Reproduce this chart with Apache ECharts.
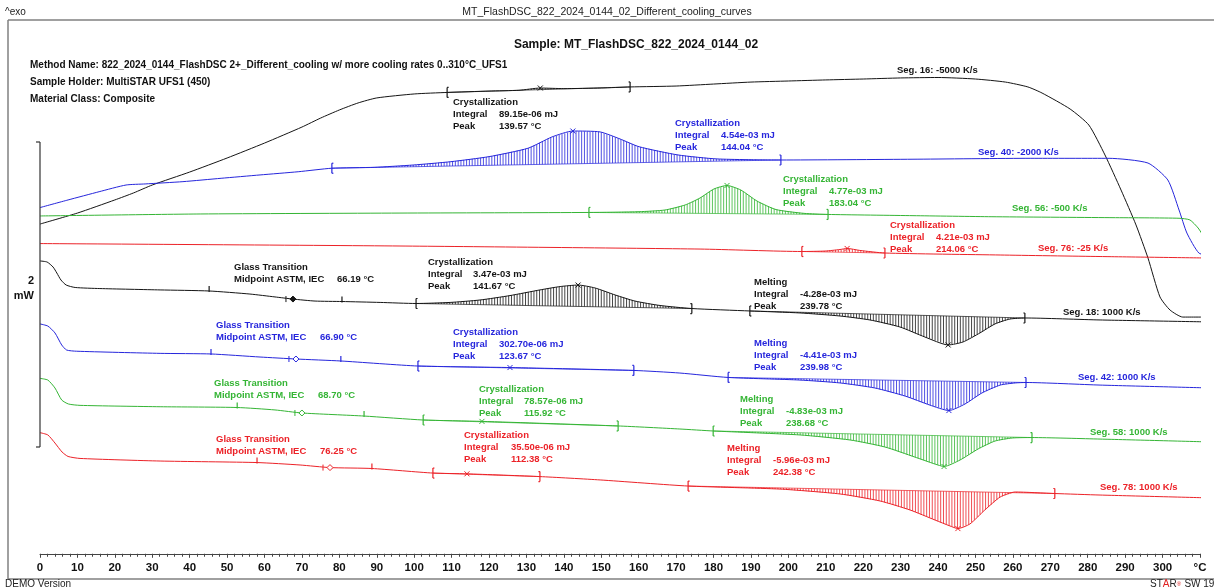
<!DOCTYPE html>
<html><head><meta charset="utf-8">
<script src="https://cdn.jsdelivr.net/npm/echarts@6/dist/echarts.min.js"></script>
<style>html,body{margin:0;padding:0;background:#fff}#c{width:1214px;height:587px}</style>
</head><body><div id="c"></div>
<script>
// ---------------- DATA: [temperature °C, heat flow mW (relative offset)] ----------------
const seg16 = [[0,1.462],[10,1.534],[20,1.620],[25,1.666],[30,1.718],[40,1.803],[50,1.895],[60,1.993],[70,2.098],[75,2.157],[80,2.210],[85,2.256],[90,2.289],[100,2.315],[108.8,2.325],[120,2.334],[128,2.339],[133.7,2.354],[140,2.350],[150,2.354],[157.7,2.361],[170,2.367],[180,2.380],[190,2.393],[200,2.400],[210,2.407],[220,2.413],[230,2.420],[240,2.423],[250,2.413],[258,2.393],[264,2.361],[267.8,2.321],[275.3,2.216],[280.3,2.111],[284.6,1.915],[288.9,1.685],[292.9,1.456],[296.1,1.239],[299.3,0.984],[302,0.898],[305.4,0.852],[312.6,0.852]];
const seg40 = [[0,1.570],[7.5,1.620],[15.8,1.674],[23,1.718],[28.1,1.725],[38.2,1.740],[48.4,1.762],[58.8,1.784],[69,1.805],[78,1.828],[89.3,1.834],[99.7,1.849],[109.8,1.871],[120,1.904],[130.4,1.959],[136.8,2.033],[142.4,2.072],[149.7,2.066],[155,2.020],[160.1,1.969],[170.5,1.915],[180.9,1.889],[198,1.882],[233.3,1.887],[264.8,1.893],[285.7,1.893],[296.1,1.862],[301.4,1.751],[304.4,1.554],[306.5,1.403],[309.7,1.272],[312.9,1.252]];
const seg56 = [[0,1.515],[42.8,1.528],[96.2,1.534],[146.7,1.538],[160.1,1.543],[167,1.554],[172.4,1.587],[176.4,1.633],[180.1,1.692],[183.6,1.715],[187.3,1.685],[191.6,1.613],[196.7,1.557],[204.2,1.532],[210.6,1.525],[233.3,1.517],[254.4,1.510],[285.7,1.504],[304.4,1.500],[307.3,1.489],[309.5,1.436],[311.3,1.370],[312.9,1.338]];
const seg76 = [[0,1.334],[96.2,1.318],[176.4,1.298],[203.6,1.282],[209.8,1.285],[213.8,1.295],[215.7,1.302],[219.1,1.289],[225.8,1.272],[256.6,1.259],[283.3,1.249],[312.9,1.239]];
const seg18 = [[0,1.220],[1.9,1.213],[3.5,1.180],[4.5,1.141],[5.6,1.095],[7,1.062],[9.4,1.046],[16,1.039],[32.1,1.030],[45.2,1.023],[56.1,1.003],[62.8,0.984],[67.6,0.970],[73.5,0.957],[80.7,0.954],[90.9,0.948],[100.5,0.941],[109.6,0.948],[117.6,0.964],[125.6,0.993],[133.6,1.030],[139,1.052],[143.8,1.062],[148.3,1.043],[153.7,0.997],[159,0.957],[165.7,0.928],[174.2,0.908],[189.7,0.892],[203.1,0.879],[213.8,0.859],[221.8,0.833],[229.8,0.787],[236.5,0.721],[242.7,0.669],[246.7,0.689],[251.2,0.748],[255.2,0.807],[259.2,0.839],[263.2,0.846],[283.3,0.833],[312.9,0.820]];
const seg42 = [[0,0.807],[2.1,0.793],[4,0.748],[5.8,0.669],[7.1,0.636],[9.8,0.628],[32.1,0.614],[45.7,0.610],[58.8,0.590],[68.4,0.577],[80.4,0.564],[101,0.531],[125.6,0.521],[158.7,0.502],[171,0.485],[183.9,0.456],[203.1,0.439],[213.8,0.420],[223.1,0.387],[231.2,0.334],[237.8,0.275],[242.9,0.239],[247.2,0.282],[251.7,0.354],[256.6,0.406],[260.6,0.420],[263.5,0.423],[283.3,0.406],[312.9,0.387]];
const seg58 = [[0,0.450],[2.1,0.439],[4,0.387],[5.8,0.308],[7.6,0.282],[10.7,0.273],[32.1,0.264],[52.7,0.259],[62.8,0.243],[70,0.223],[86.6,0.203],[102.4,0.177],[118.1,0.168],[154.5,0.138],[171,0.118],[179.9,0.105],[203.1,0.079],[216.5,0.046],[225.8,0.000],[233.8,-0.066],[239.2,-0.112],[241.6,-0.128],[245.9,-0.085],[250.7,-0.013],[255.2,0.039],[259.8,0.059],[265.1,0.062],[283.3,0.052],[312.9,0.033]];
const seg78 = [[0,0.094],[2.1,0.079],[4,0.026],[5.9,-0.033],[7.5,-0.062],[10.7,-0.075],[32.1,-0.092],[58,-0.102],[69.5,-0.118],[77.5,-0.135],[88.7,-0.141],[105,-0.171],[114.1,-0.176],[133.6,-0.194],[149.7,-0.216],[173.2,-0.256],[197.8,-0.276],[213.8,-0.308],[224.5,-0.354],[232.5,-0.413],[239.2,-0.479],[243.2,-0.518],[245.3,-0.535],[248.5,-0.505],[252.5,-0.413],[256.6,-0.328],[260.6,-0.295],[271.2,-0.305],[283.3,-0.315],[312.9,-0.334]];

// evaluation limits [start °C, end °C, peak °C] and glass transition [start, midpoint, end]
const seg16Cryst = [108.8, 157.7, 133.7];
const seg40Cryst = [78, 198, 142.4];
const seg56Cryst = [146.7, 210.6, 183.6];
const seg76Cryst = [203.6, 225.8, 215.7];
const seg18Tg = [45.2, 67.6, 80.7], seg18Cryst = [100.5, 174.2, 143.8], seg18Melt = [189.7, 263.2, 242.7];
const seg42Tg = [45.7, 68.4, 80.4], seg42Cryst = [101, 158.7, 125.6], seg42Melt = [183.9, 263.5, 242.9];
const seg58Tg = [52.7, 70, 86.6], seg58Cryst = [102.4, 154.5, 118.1], seg58Melt = [179.9, 265.1, 241.6];
const seg78Tg = [58, 77.5, 88.7], seg78Cryst = [105, 133.6, 114.1], seg78Melt = [173.2, 271.2, 245.3];

const scaleBar = [0, 2]; // mW
const xTicks = {min: 0, max: 310, step: 10};

// annotation texts
const segNames = ['Seg. 16: -5000 K/s','Seg. 40: -2000 K/s','Seg. 56: -500 K/s','Seg. 76: -25 K/s','Seg. 18: 1000 K/s','Seg. 42: 1000 K/s','Seg. 58: 1000 K/s','Seg. 78: 1000 K/s'];
const t16C = ['Crystallization','Integral','89.15e-06 mJ','Peak','139.57 °C'];
const t40C = ['Crystallization','Integral','4.54e-03 mJ','Peak','144.04 °C'];
const t56C = ['Crystallization','Integral','4.77e-03 mJ','Peak','183.04 °C'];
const t76C = ['Crystallization','Integral','4.21e-03 mJ','Peak','214.06 °C'];
const t18G = ['Glass Transition','Midpoint ASTM, IEC','66.19 °C'];
const t18C = ['Crystallization','Integral','3.47e-03 mJ','Peak','141.67 °C'];
const t18M = ['Melting','Integral','-4.28e-03 mJ','Peak','239.78 °C'];
const t42G = ['Glass Transition','Midpoint ASTM, IEC','66.90 °C'];
const t42C = ['Crystallization','Integral','302.70e-06 mJ','Peak','123.67 °C'];
const t42M = ['Melting','Integral','-4.41e-03 mJ','Peak','239.98 °C'];
const t58G = ['Glass Transition','Midpoint ASTM, IEC','68.70 °C'];
const t58C = ['Crystallization','Integral','78.57e-06 mJ','Peak','115.92 °C'];
const t58M = ['Melting','Integral','-4.83e-03 mJ','Peak','238.68 °C'];
const t78G = ['Glass Transition','Midpoint ASTM, IEC','76.25 °C'];
const t78C = ['Crystallization','Integral','35.50e-06 mJ','Peak','112.38 °C'];
const t78M = ['Melting','Integral','-5.96e-03 mJ','Peak','242.38 °C'];

// ---------------- STYLE / LAYOUT ----------------
const FONT = '"Liberation Sans", Arial, Helvetica, sans-serif';
const COL = {k:'#151515', b:'#2626dc', g:'#35b535', r:'#ec2228'};
const HATCH = 0.75;

const curves = [
  {data: seg16, color: COL.k, regions: [seg16Cryst], tg: null},
  {data: seg40, color: COL.b, regions: [seg40Cryst], tg: null},
  {data: seg56, color: COL.g, regions: [seg56Cryst], tg: null},
  {data: seg76, color: COL.r, regions: [seg76Cryst], tg: null},
  {data: seg18, color: COL.k, regions: [seg18Cryst, seg18Melt], tg: seg18Tg, fillDiamond: true},
  {data: seg42, color: COL.b, regions: [seg42Cryst, seg42Melt], tg: seg42Tg},
  {data: seg58, color: COL.g, regions: [seg58Cryst, seg58Melt], tg: seg58Tg},
  {data: seg78, color: COL.r, regions: [seg78Cryst, seg78Melt], tg: seg78Tg}
];

function yAt(d, t) {
  for (let i = 1; i < d.length; i++) {
    if (t <= d[i][0]) { const a = d[i-1], b = d[i]; return a[1] + (b[1]-a[1])*(t-a[0])/(b[0]-a[0]); }
  }
  return d[d.length-1][1];
}

function marksRenderer(cfg) {
  return function (params, api) {
    const kids = [], col = cfg.color;
    const P = (t, v) => api.coord([t, v]);
    const ln = (x1,y1,x2,y2,w) => kids.push({type:'line', silent:true, shape:{x1,y1,x2,y2}, style:{stroke:col, lineWidth:w||1}});
    cfg.regions.forEach(r => {
      const a = r[0], b = r[1], pk = r[2];
      const ya = yAt(cfg.data, a), yb = yAt(cfg.data, b);
      for (let t = a + HATCH; t < b; t += HATCH) {
        const base = ya + (yb-ya)*(t-a)/(b-a);
        const p1 = P(t, base), p2 = P(t, yAt(cfg.data, t));
        ln(p1[0], p1[1], p2[0], p2[1], 0.8);
      }
      const pa = P(a, ya), pb = P(b, yb);
      ln(pa[0], pa[1], pb[0], pb[1], 0.7);
      [[pa,1],[pb,-1]].forEach(([p,dir]) => {
        ln(p[0], p[1]-5, p[0], p[1]+5, 1.2);
        ln(p[0], p[1]-5, p[0]+1.5*dir, p[1]-5, 1.2);
        ln(p[0], p[1]+5, p[0]+1.5*dir, p[1]+5, 1.2);
      });
      const pp = P(pk, yAt(cfg.data, pk));
      ln(pp[0]-2.5, pp[1]-2.5, pp[0]+2.5, pp[1]+2.5, 1);
      ln(pp[0]-2.5, pp[1]+2.5, pp[0]+2.5, pp[1]-2.5, 1);
    });
    if (cfg.tg) {
      const s = P(cfg.tg[0], yAt(cfg.data, cfg.tg[0]));
      const m = P(cfg.tg[1], yAt(cfg.data, cfg.tg[1]));
      const e = P(cfg.tg[2], yAt(cfg.data, cfg.tg[2]));
      ln(s[0], s[1]-5, s[0], s[1]+1, 1.2);
      ln(e[0], e[1]-5, e[0], e[1]+1, 1.2);
      ln(m[0]-7, m[1]-3, m[0]-7, m[1]+3, 1);
      kids.push({type:'polygon', silent:true, shape:{points:[[m[0],m[1]-3],[m[0]+3,m[1]],[m[0],m[1]+3],[m[0]-3,m[1]]]},
        style:{stroke:col, fill: cfg.fillDiamond ? col : '#fff', lineWidth:1}});
    }
    return {type:'group', children:kids};
  };
}

function scaleRenderer(params, api) {
  const a = api.coord([0, scaleBar[0]]), b = api.coord([0, scaleBar[1]]);
  const st = {stroke:'#333', lineWidth:1.2};
  return {type:'group', children:[
    {type:'line', shape:{x1:a[0],y1:a[1],x2:b[0],y2:b[1]}, style:st},
    {type:'line', shape:{x1:a[0]-4,y1:a[1],x2:a[0],y2:a[1]}, style:st},
    {type:'line', shape:{x1:b[0]-4,y1:b[1],x2:b[0],y2:b[1]}, style:st}
  ]};
}

function txt(x, y, s, color, size, weight, align) {
  return {type:'text', x:x, y:y, silent:true, z:100,
    style:{text:s, fill:color, fontSize:size, fontWeight:weight||'bold', fontFamily:FONT, align:align||'left', verticalAlign:'middle'}};
}
function block(x, y, color, arr, dx) {
  const out = [txt(x, y, arr[0], color, 9.5)];
  for (let i = 1, row = 1; i < arr.length; i += 2, row++) {
    out.push(txt(x, y + 12*row, arr[i], color, 9.5));
    out.push(txt(x + dx, y + 12*row, arr[i+1], color, 9.5));
  }
  return out;
}

const graphics = [
  {type:'line', silent:true, shape:{x1:8, y1:20, x2:1214, y2:20}, style:{stroke:'#808080', lineWidth:1.5}},
  {type:'line', silent:true, shape:{x1:8, y1:20, x2:8, y2:579}, style:{stroke:'#808080', lineWidth:1.5}},
  {type:'line', silent:true, shape:{x1:8, y1:579, x2:1214, y2:579}, style:{stroke:'#808080', lineWidth:1.5}},
  txt(5, 12, '^exo', '#222', 10, 'normal'),
  txt(607, 12, 'MT_FlashDSC_822_2024_0144_02_Different_cooling_curves', '#222', 10.5, 'normal', 'center'),
  txt(636, 45, 'Sample: MT_FlashDSC_822_2024_0144_02', '#111', 12, 'bold', 'center'),
  txt(30, 65, 'Method Name: 822_2024_0144_FlashDSC 2+_Different_cooling w/ more cooling rates 0..310°C_UFS1', '#111', 10),
  txt(30, 82, 'Sample Holder: MultiSTAR UFS1 (450)', '#111', 10),
  txt(30, 99, 'Material Class: Composite', '#111', 10),
  txt(34, 281, '2', '#111', 11, 'bold', 'right'),
  txt(34, 296, 'mW', '#111', 11, 'bold', 'right'),
  txt(5, 584, 'DEMO Version', '#222', 10, 'normal'),
  {type:'text', x:1150, y:584, silent:true, style:{text:'{a|ST}{r|A}{a|R}{s|®} {a|SW 19.00}', verticalAlign:'middle', fontFamily:FONT,
    rich:{a:{fill:'#222', fontSize:10, fontFamily:FONT}, r:{fill:'#e02020', fontSize:10, fontFamily:FONT}, s:{fill:'#e02020', fontSize:6, fontFamily:FONT}}}},
  txt(897, 70, segNames[0], COL.k, 9.5),
  txt(978, 152, segNames[1], COL.b, 9.5),
  txt(1012, 208, segNames[2], COL.g, 9.5),
  txt(1038, 248.5, segNames[3], COL.r, 9.5),
  txt(1063, 312, segNames[4], COL.k, 9.5),
  txt(1078, 377.5, segNames[5], COL.b, 9.5),
  txt(1090, 432.5, segNames[6], COL.g, 9.5),
  txt(1100, 487, segNames[7], COL.r, 9.5),
  ...block(453, 102.5, COL.k, t16C, 46),
  ...block(675, 123.5, COL.b, t40C, 46),
  ...block(783, 179, COL.g, t56C, 46),
  ...block(890, 225.7, COL.r, t76C, 46),
  ...block(234, 267, COL.k, t18G, 103),
  ...block(428, 262.3, COL.k, t18C, 45),
  ...block(754, 282.7, COL.k, t18M, 46),
  ...block(216, 325.7, COL.b, t42G, 104),
  ...block(453, 332, COL.b, t42C, 46),
  ...block(754, 343, COL.b, t42M, 46),
  ...block(214, 383.7, COL.g, t58G, 104),
  ...block(479, 389, COL.g, t58C, 45),
  ...block(740, 399.4, COL.g, t58M, 46),
  ...block(216, 439.3, COL.r, t78G, 104),
  ...block(464, 435, COL.r, t78C, 47),
  ...block(727, 448.4, COL.r, t78M, 46)
];

const series = [];
curves.forEach((c, i) => {
  series.push({type:'line', data:c.data, smooth:0.2, symbol:'none', clip:false, silent:true, z:3,
    lineStyle:{color:c.color, width:1}});
  series.push({type:'custom', data:[[0,0]], z:4, silent:true, clip:false, renderItem: marksRenderer(c)});
});
series.push({type:'custom', data:[[0,0]], z:4, silent:true, renderItem: scaleRenderer});

const chart = echarts.init(document.getElementById('c'), null, {renderer:'canvas'});
chart.setOption({
  animation:false,
  backgroundColor:'#fff',
  grid:{left:40, right:14, top:20, bottom:33.25, containLabel:false, outerBoundsMode:'none'},
  xAxis:{type:'value', min:xTicks.min, max:xTicks.max, interval:xTicks.step,
    axisLine:{show:true, onZero:false, lineStyle:{color:'#444', width:1}},
    axisTick:{show:true, length:4, lineStyle:{color:'#444'}},
    minorTick:{show:true, splitNumber:5, length:3, lineStyle:{color:'#444'}},
    splitLine:{show:false},
    axisLabel:{show:true, showMinLabel:true, showMaxLabel:true, color:'#111', fontSize:11.5, fontWeight:'bold', fontFamily:FONT, margin:8,
      formatter: v => v === xTicks.max ? '°C' : String(v)}},
  yAxis:{type:'value', min:-0.7, max:2.8, show:false},
  series: series,
  graphic: graphics
});
</script></body></html>
